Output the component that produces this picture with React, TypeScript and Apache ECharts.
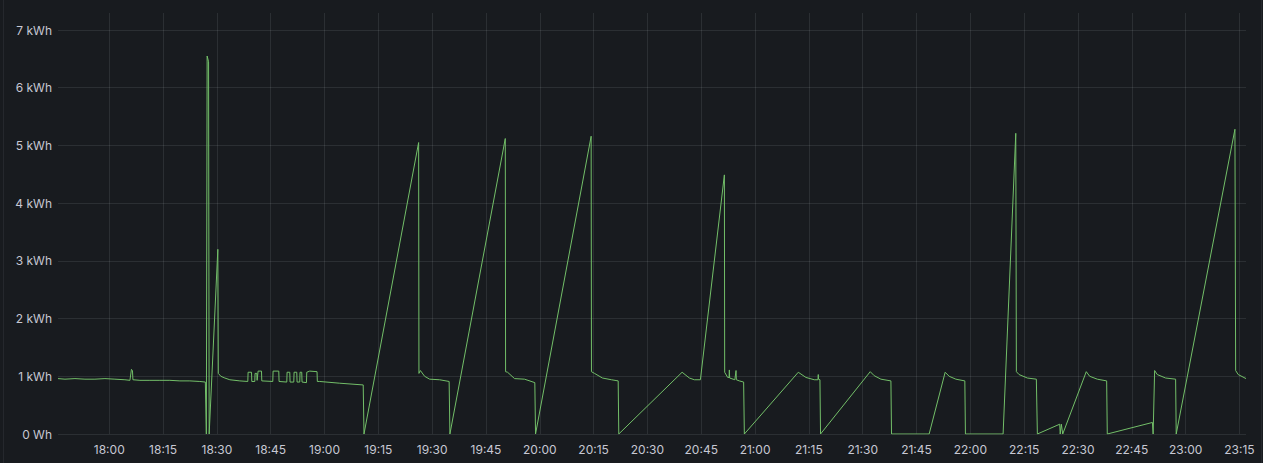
import React, { useEffect, useRef } from "react";
import * as echarts from "echarts";

// Sample times (local clock) and energy values (kWh)
const times: string[] = [
  "17:45:43", "17:47:40", "17:50:27", "17:53:14", "17:56:01", "17:58:48", "18:01:35", "18:04:22",
  "18:05:46", "18:06:11", "18:06:28", "18:06:36", "18:08:33", "18:11:20", "18:14:07", "18:16:54",
  "18:19:41", "18:22:28", "18:25:15", "18:26:47", "18:27:04", "18:27:17", "18:27:41", "18:27:51",
  "18:30:16", "18:30:24", "18:31:06", "18:32:13", "18:33:37", "18:36:24", "18:38:37", "18:38:42",
  "18:39:39", "18:39:44", "18:40:34", "18:40:39", "18:41:08", "18:41:13", "18:41:24", "18:41:29",
  "18:42:26", "18:42:31", "18:45:35", "18:45:40", "18:47:15", "18:47:20", "18:49:29", "18:49:34",
  "18:50:19", "18:50:24", "18:51:26", "18:51:31", "18:52:16", "18:52:21", "18:53:06", "18:53:11",
  "18:53:39", "18:53:44", "18:54:58", "18:55:03", "18:55:53", "18:57:55", "18:58:00", "18:58:40",
  "19:04:14", "19:10:47", "19:11:00", "19:26:14", "19:26:19", "19:26:43", "19:27:54", "19:29:18",
  "19:32:05", "19:34:44", "19:34:57", "19:50:23", "19:50:28", "19:51:01", "19:52:58", "19:55:45",
  "19:58:37", "19:58:49", "20:14:19", "20:14:24", "20:15:15", "20:17:28", "20:19:59", "20:21:51",
  "20:22:01", "20:39:40", "20:41:42", "20:43:05", "20:44:46", "20:51:27", "20:51:32", "20:52:22",
  "20:52:45", "20:52:50", "20:52:55", "20:54:22", "20:54:42", "20:54:47", "20:55:37", "20:56:49",
  "20:57:01", "21:12:03", "21:14:11", "21:16:30", "21:17:32", "21:17:37", "21:17:42", "21:18:05",
  "21:18:15", "21:32:06", "21:33:13", "21:35:05", "21:37:52", "21:38:02", "21:48:31", "21:52:59",
  "21:54:06", "21:55:58", "21:58:28", "21:58:38", "22:09:08", "22:12:40", "22:12:50", "22:13:35",
  "22:15:54", "22:18:24", "22:18:41", "22:24:55", "22:25:03", "22:25:22", "22:25:45", "22:32:19",
  "22:33:16", "22:35:23", "22:38:00", "22:38:10", "22:50:45", "22:50:57", "22:51:22", "22:52:06",
  "22:54:26", "22:57:13", "22:57:23", "23:13:45", "23:13:57", "23:14:40", "23:16:50",
];

const values: number[] = [
  0.96, 0.95, 0.96, 0.95, 0.95, 0.96, 0.95, 0.94,
  0.93, 1.12, 1.1, 0.94, 0.93, 0.93, 0.93, 0.93,
  0.92, 0.92, 0.91, 0.9, 0, 6.55, 6.45, 0,
  3.2, 1.05, 1.0, 0.97, 0.94, 0.92, 0.91, 1.07,
  1.07, 0.91, 0.91, 1.05, 1.05, 0.93, 0.93, 1.09,
  1.09, 0.92, 0.91, 1.09, 1.09, 0.91, 0.9, 1.07,
  1.07, 0.9, 0.9, 1.07, 1.07, 0.9, 0.9, 1.07,
  1.07, 0.9, 0.89, 1.07, 1.09, 1.08, 0.91, 0.91,
  0.88, 0.85, 0, 5.05, 1.05, 1.1, 1.0, 0.95,
  0.94, 0.91, 0, 5.12, 1.08, 1.07, 0.96, 0.95,
  0.89, 0, 5.16, 1.08, 1.05, 0.97, 0.94, 0.92,
  0, 1.07, 0.97, 0.94, 0.94, 4.49, 1.07, 0.98,
  0.98, 1.11, 0.97, 0.94, 1.1, 0.94, 0.92, 0.9,
  0, 1.07, 0.98, 0.94, 0.94, 1.03, 0.95, 0.94,
  0, 1.08, 1.01, 0.95, 0.92, 0, 0, 1.07,
  1.0, 0.95, 0.92, 0, 0, 5.21, 1.08, 1.03,
  0.97, 0.95, 0, 0.17, 0, 0.17, 0, 1.08,
  1.0, 0.95, 0.92, 0, 0.2, 0, 1.1, 1.03,
  0.97, 0.95, 0, 5.28, 1.1, 1.03, 0.96,
];

const yTicks: number[] = [0, 1, 2, 3, 4, 5, 6, 7];
// 15-minute gridlines between the axis ends: 18:00 ... 23:15
const xGridCount = 22;

function toMs(t: string): number {
  const [h, m, s] = t.split(":").map(Number);
  return new Date(2024, 0, 1, h, m, s).getTime();
}

function pad(n: number): string {
  return n < 10 ? "0" + n : String(n);
}

export default function App() {
  const ref = useRef<HTMLDivElement>(null);

  useEffect(() => {
    if (!ref.current) return;
    const chart = echarts.init(ref.current, undefined, { renderer: "svg" });
    const data = times.map((t, i) => [toMs(t), values[i]]);
    const gridColor = "rgba(240,250,255,0.09)";
    const clear = "rgba(0,0,0,0)";
    const textColor = "#c7c8d3";
    const xLineColors = [clear, ...Array.from({ length: xGridCount }, () => gridColor), clear];

    chart.setOption({
      animation: false,
      backgroundColor: "#181b1f",
      grid: { left: 58, right: 17, top: 13, bottom: 29, containLabel: false },
      xAxis: {
        type: "time",
        min: toMs(times[0]),
        max: toMs(times[times.length - 1]),
        // approx interval of 16 min makes the time scale pick 15-minute steps
        minInterval: 16 * 60 * 1000,
        maxInterval: 16 * 60 * 1000,
        axisLine: { show: false },
        axisTick: { show: false },
        splitLine: { show: true, lineStyle: { color: xLineColors, width: 1 } },
        axisLabel: {
          color: textColor,
          fontFamily: "Inter",
          fontSize: 12,
          margin: 9,
          hideOverlap: false,
          formatter: (v: number) => {
            const d = new Date(v);
            return pad(d.getHours()) + ":" + pad(d.getMinutes());
          },
        },
      },
      yAxis: {
        type: "value",
        min: 0,
        max: 7.295,
        interval: 1,
        axisLine: { show: false },
        axisTick: { show: false },
        splitLine: {
          show: true,
          lineStyle: {
            color: [...yTicks.map(() => gridColor), clear],
            width: 1,
          },
        },
        axisLabel: {
          color: textColor,
          fontFamily: "Inter",
          fontSize: 12,
          margin: 6,
          showMaxLabel: false,
          formatter: (v: number) =>
            yTicks.includes(v) ? (v === 0 ? "0 Wh" : v + " kWh") : "",
        },
      },
      graphic: [
        { type: "line", shape: { x1: 3.5, y1: 0, x2: 3.5, y2: 463 }, style: { stroke: "#25282d", lineWidth: 1 } },
        { type: "line", shape: { x1: 1261.5, y1: 0, x2: 1261.5, y2: 463 }, style: { stroke: "#25282d", lineWidth: 1 } },
      ],
      series: [
        {
          type: "line",
          data,
          showSymbol: false,
          symbol: "none",
          lineStyle: { color: "#73bf69", width: 1 },
          itemStyle: { color: "#73bf69" },
        },
      ],
    });

    return () => chart.dispose();
  }, []);

  return (
    <div
      ref={ref}
      style={{ position: "fixed", left: 0, top: 0, width: 1263, height: 463 }}
    />
  );
}
